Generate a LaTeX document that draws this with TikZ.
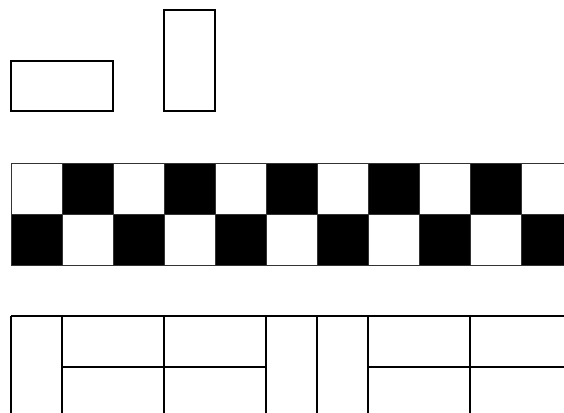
\documentclass[tikz,border=0pt]{standalone}
\begin{document}
\begin{tikzpicture}[x=1pt,y=-1pt,
  tile/.style={draw=black,line width=1.4pt},
  gridline/.style={draw=black!80,line width=1pt}]
\useasboundingbox (0,0) rectangle (564,412);
\clip (0,0) rectangle (564,412);
% top dominoes
\draw[tile] (11,61) rectangle (113,111);
\draw[tile] (164,10) rectangle (215,111);
% checkerboard
\foreach \k in {0,...,10}{
  \pgfmathsetmacro{\xa}{11+51*\k}
  \pgfmathsetmacro{\xb}{62+51*\k}
  \ifodd\k
    \fill[black] (\xa,163) rectangle (\xb,214);
  \else
    \fill[black] (\xa,214) rectangle (\xb,265);
  \fi
}
\foreach \k in {0,...,10}{
  \pgfmathsetmacro{\xa}{11+51*\k}
  \draw[gridline] (\xa,163) -- (\xa,265);
}
\draw[gridline] (11,163) -- (580,163);
\draw[gridline] (11,214) -- (580,214);
\draw[gridline] (11,265) -- (580,265);
% tiling strip
\draw[tile] (11,316) -- (580,316);
\foreach \x in {11,62,164,266,317,368,470}{
  \draw[tile] (\x,316) -- (\x,420);
}
\draw[tile] (62,367) -- (266,367);
\draw[tile] (368,367) -- (580,367);
\end{tikzpicture}
\end{document}
